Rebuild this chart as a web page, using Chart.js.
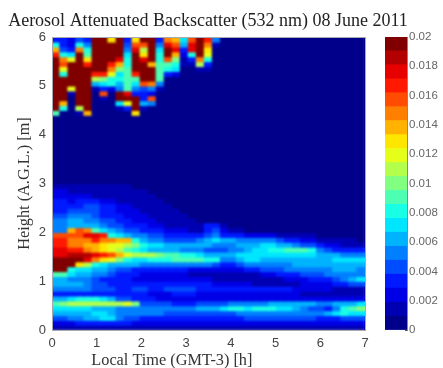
<!DOCTYPE html>
<html><head><meta charset="utf-8">
<script src="https://cdn.jsdelivr.net/npm/chart.js@4"></script>
<style>
html,body{margin:0;padding:0;background:#fff;width:443px;height:368px;overflow:hidden}
canvas{position:absolute;top:0}
#heat{left:0}
#bar{left:375px}
</style></head><body>
<div style="position:absolute;left:0;top:0;width:416px;height:368px"><canvas id="heat"></canvas></div>
<div style="position:absolute;left:375px;top:0;width:68px;height:368px"><canvas id="bar" style="left:0"></canvas></div>
<script>
const titleText = "Aerosol Attenuated Backscatter (532 nm) 08 June 2011";
const xLabel = "Local Time (GMT-3) [h]";
const yLabel = "Height (A.G.L.) [m]";
const xTicks = [0,1,2,3,4,5,6,7];
const yTicks = [0,1,2,3,4,5,6];
const barTicks = [0,0.002,0.004,0.006,0.008,0.01,0.012,0.014,0.016,0.018,0.02];
const timeCentres = [.090,.269,.449,.628,.808,.987,1.167,1.346,1.526,1.705,1.885,2.064,2.244,2.423,2.603,2.782,2.962,3.141,3.321,3.500,3.679,3.859,4.038,4.218,4.397,4.577,4.756,4.936,5.115,5.295,5.474,5.654,5.833,6.013,6.192,6.372,6.551,6.731,6.910];
const heightBases = [5.9,5.8,5.7,5.6,5.5,5.4,5.3,5.2,5.1,5.0,4.9,4.8,4.7,4.6,4.5,4.4,4.3,4.2,4.1,4.0,3.9,3.8,3.7,3.6,3.5,3.4,3.3,3.2,3.1,3.0,2.9,2.8,2.7,2.6,2.5,2.4,2.3,2.2,2.1,2.0,1.9,1.8,1.7,1.6,1.5,1.4,1.3,1.2,1.1,1.0,.9,.8,.7,.6,.5,.4,.3,.2,.1,0];
// Backscatter in units of 0.001, top row first; cells after the last listed one are clear air (0).
const backscatter = [
[3,3,2,4,3,20,20,13,20,3,13,20,20,3,15,14,7,16,20,17,5],
[8,3,2,8,5,20,20,20,20,4,16,16,20,5,18,16,6,18,20,15,1],
[14,4,3,15,8,20,20,20,20,5,18,11,20,7,20,18,3,18,20,13],
[17,8,7,20,9,20,20,20,20,7,20,13,20,8,20,14,2,8,20,12],
[20,15,12,20,13,20,20,20,18,8,20,18,20,8,16,10,1,3,15,8],
[20,16,20,20,17,20,20,17,14,8,20,20,14,9,9,8,1,1,11,3],
[20,12,20,20,20,20,20,15,10,9,20,20,20,9,8,7,0,0,1,1],
[20,8,20,20,20,17,17,12,7,9,17,20,20,9,3,2],
[20,20,20,20,20,11,10,8,8,9,9,20,20,9],
[20,20,20,20,20,6,7,8,6,9,7,16,15,5],
[20,20,12,20,20,1,3,2,5,9,5,4,5,1],
[20,20,1,20,20,0,16,0,20,18,3,3,2],
[20,20,0,20,20,0,1,0,20,20,20,3,16],
[20,14,0,20,20,0,0,0,7,12,20,6,5],
[20,8,0,11,20,0,0,0,1,3,20,1],
[9,0,0,1,14,0,0,0,0,0,13],
[0],[0],[0],[0],[0],[0],[0],[0],[0],[0],[0],[0],[0],[0],
[1,1,1,1,1,1,1,1,1,1],
[2,2,1,1,1,1,1,1,1,1,1,1],
[2,2,2,2,2,1,1,1,1,1,1,1,1],
[3,3,2,3,3,3,2,2,1,1,1,1,1,1],
[3,3,3,3,4,4,3,3,2,2,1,1,1,1,1],
[3,3,4,4,4,4,3,3,2,2,2,1,1,1,1,1],
[4,4,5,5,5,4,3,3,3,2,2,2,1,1,1,1,1],
[5,5,6,6,5,5,4,4,3,3,2,2,2,1,1,1,1,1],
[5,5,6,6,6,6,5,4,4,3,3,3,2,2,1,1,1,1,1,3,3,1],
[5,5,14,16,15,9,7,6,5,4,4,3,3,3,2,2,2,1,1,3,4,2,1,1],
[16,16,16,16,18,18,17,8,7,6,5,5,4,4,3,3,3,3,3,4,5,3,3,3,2,2,2,2,1,1,1,1,1],
[17,17,15,15,15,17,15,15,14,14,8,6,5,5,4,4,4,4,5,6,7,6,6,5,5,5,5,5,4,3,3,2,2,1,1,1,1,1],
[17,17,15,15,14,14,13,12,12,11,10,8,7,7,6,6,6,6,6,6,5,5,5,6,6,6,7,7,6,6,5,4,4,3,2,2,1,1,1],
[18,18,17,17,15,14,13,12,11,9,8,7,6,6,6,6,5,5,5,4,4,4,5,5,6,7,7,8,8,9,9,9,8,5,4,3,3,3,3],
[18,18,19,19,19,18,17,16,14,12,11,11,11,10,9,9,8,8,7,6,6,6,6,7,7,7,7,7,7,7,7,7,7,6,6,6,5,5,5],
[20,20,20,20,18,15,13,12,10,8,7,7,8,8,8,9,9,9,9,8,8,5,5,6,7,7,6,6,6,6,6,6,6,6,6,7,7,7,7],
[20,20,20,13,11,8,7,6,6,6,6,5,5,5,5,5,5,5,5,5,4,3,3,4,5,5,5,5,5,5,6,6,6,6,6,6,6,6,6],
[20,20,8,7,7,6,6,5,4,4,3,3,3,3,3,3,3,2,2,2,2,2,2,2,3,3,4,4,4,5,5,5,5,5,5,6,6,6,5],
[9,9,7,6,6,5,5,4,3,3,3,2,2,2,2,2,2,1,1,1,1,1,1,1,1,1,2,2,3,3,3,4,4,4,5,5,5,5,5],
[6,6,5,5,5,4,3,3,3,3,2,2,2,2,2,2,2,2,2,2,1,1,1,1,1,1,1,1,1,2,2,2,3,3,3,4,5,6,7],
[6,6,6,6,5,4,4,3,3,3,3,3,3,3,3,3,3,3,3,3,2,2,2,2,2,1,1,1,1,1,1,2,2,2,2,3,3,4,4],
[5,5,5,5,5,4,4,4,3,3,4,4,3,3,4,4,4,4,3,3,3,3,3,3,3,3,3,3,3,3,2,2,2,2,2,1,1,1,1],
[3,3,3,3,3,3,3,3,3,3,3,3,2,2,2,3,3,3,2,2,2,2,2,2,2,2,2,2,2,2,2,1,1,1,1,1,1,1,1],
[6,6,7,8,8,8,7,6,4,4,3,3,3,2,2,2,2,2,2,2,2,2,2,2,2,2,2,2,2,2,2,2,2,2,2,2,2,2,2],
[9,10,11,11,11,11,11,11,11,12,10,4,4,4,4,3,3,3,4,4,4,4,5,5,5,5,5,6,6,6,6,6,6,5,5,6,6,6,7],
[7,7,7,7,7,6,6,6,5,5,5,5,5,5,5,5,5,5,6,6,6,7,8,8,7,8,8,8,7,7,6,5,4,4,3,5,8,9,10],
[6,6,6,6,6,7,7,6,5,5,5,5,5,5,4,4,4,4,4,4,4,4,4,5,5,5,5,5,5,5,5,5,5,5,6,7,8,7,7],
[4,4,5,5,6,6,7,7,5,4,4,3,3,3,3,3,3,3,3,3,3,3,3,3,4,4,4,4,4,4,4,4,4,3,3,3,4,4,4],
[2,2,2,3,3,3,3,3,3,3,2,2,2,2,2,2,2,2,2,2,2,2,2,2,2,2,2,2,2,2,2,2,2,2,2,2,2,2,2],
[1,1,1,1,1,1,1,1,1,1,1,1,1,1,1,1,1,1,1,1,1,1,1,1,1,1,1,1,1,1,1,1,1,1,1,1,1,1,1]
];
const bandLows = [0,.95,1.9,2.86,3.81,4.76,5.71,6.67,7.62,8.57,9.52,10.48,11.43,12.38,13.33,14.29,15.24,16.19,17.14,18.1,19.05];
const bandColors = ["#00008a","#0000b3","#0000e6","#0019ff","#004cff","#0080ff","#00b3ff","#00e6ff","#19ffe6","#4cffb3","#80ff80","#b3ff4c","#e6ff19","#ffe600","#ffb300","#ff8000","#ff4c00","#ff1900","#e60000","#b30000","#800000"];

const serif = '"Liberation Serif","Times New Roman",serif';
const sans = '"Liberation Sans",Arial,sans-serif';
const tickColor = '#444';
const frameColor = '#a8a8b0';

const datasets = heightBases.map((h,i)=>({
  data: timeCentres.map((t,c)=>({x:t, y:[h,+(h+0.1).toFixed(1)], v: backscatter[i][c] ?? 0})),
  backgroundColor: ctx => bandColors[ctx.raw ? ctx.raw.v : 0],
  borderWidth: 0,
  inflateAmount: 0.7,
  barPercentage: 1,
  categoryPercentage: 1,
  grouped: false
}));

const softenAndFrame = {
  id:'softenAndFrame',
  afterDatasetsDraw(chart){
    const {ctx,chartArea:a,canvas} = chart;
    ctx.save();
    ctx.beginPath(); ctx.rect(a.left+1,a.top,a.width-2,a.height); ctx.clip();
    ctx.filter='blur(1px)';
    ctx.drawImage(canvas,0,0,canvas.width,canvas.height,0,0,canvas.width,canvas.height);
    ctx.restore();
  },
  afterDraw(chart){
    const {ctx,chartArea:a} = chart;
    ctx.save();
    ctx.strokeStyle=frameColor; ctx.lineWidth=1;
    ctx.strokeRect(Math.round(a.left)+.5,Math.round(a.top)+.5,Math.round(a.width),Math.round(a.height));
    ctx.restore();
  }
};

new Chart(document.getElementById('heat'),{
  type:'bar',
  data:{datasets},
  plugins:[softenAndFrame],
  options:{
    responsive:true, maintainAspectRatio:false, animation:false,
    events:[],
    layout:{padding:0},
    plugins:{
      legend:{display:false}, tooltip:{enabled:false},
      title:{display:true,text:titleText,color:'#222',font:{family:serif,size:18,weight:'normal'},padding:{top:10,bottom:5.4}}
    },
    scales:{
      x:{type:'linear',min:0,max:7,offset:false,
        afterFit:s=>{s.height=38},
        afterBuildTicks:s=>{s.ticks=xTicks.map(value=>({value}))},
        grid:{offset:false,drawOnChartArea:false,tickLength:-3,color:'#777'},
        border:{color:frameColor},
        ticks:{color:tickColor,font:{family:sans,size:13},padding:9,maxRotation:0},
        title:{display:true,text:xLabel+'\u00a0'.repeat(18),color:'#333',font:{family:serif,size:16.3},padding:{top:0,bottom:-3}}
      },
      y:{type:'linear',min:0,max:6,
        afterFit:s=>{s.width=52},
        afterBuildTicks:s=>{s.ticks=yTicks.map(value=>({value}))},
        grid:{drawOnChartArea:false,tickLength:-3,color:'#777'},
        border:{color:frameColor},
        ticks:{color:tickColor,font:{family:sans,size:13},padding:9},
        title:{display:true,text:yLabel,color:'#333',font:{family:serif,size:16.3},padding:{top:15,bottom:0}}
      },
      yRight:{type:'linear',position:'right',min:0,max:6,
        afterFit:s=>{s.width=51},
        afterBuildTicks:s=>{s.ticks=yTicks.map(value=>({value}))},
        grid:{drawOnChartArea:false,tickLength:-3,color:'#777'},
        border:{color:frameColor},
        ticks:{display:false}
      }
    }
  }
});

new Chart(document.getElementById('bar'),{
  type:'bar',
  data:{labels:[''],datasets:bandColors.map((col,k)=>({
    data:[[bandLows[k]/1000,(k<20?bandLows[k+1]:20)/1000]],
    backgroundColor:col,borderWidth:0,inflateAmount:0.4,
    barPercentage:1,categoryPercentage:1,grouped:false
  }))},
  options:{
    responsive:true, maintainAspectRatio:false, animation:false,
    events:[],
    layout:{padding:{left:10,top:37,bottom:38,right:0}},
    plugins:{legend:{display:false},tooltip:{enabled:false}},
    scales:{
      x:{display:false},
      y:{type:'linear',position:'right',min:0,max:0.02,
        afterFit:s=>{s.width=36},
        afterBuildTicks:s=>{s.ticks=barTicks.map(value=>({value}))},
        grid:{drawOnChartArea:false,tickLength:-2,color:'#555'},
        border:{color:'#888'},
        ticks:{color:'#666',font:{family:sans,size:11.5},padding:4,callback:v=>String(v)}
      }
    }
  }
});
</script>
</body></html>
